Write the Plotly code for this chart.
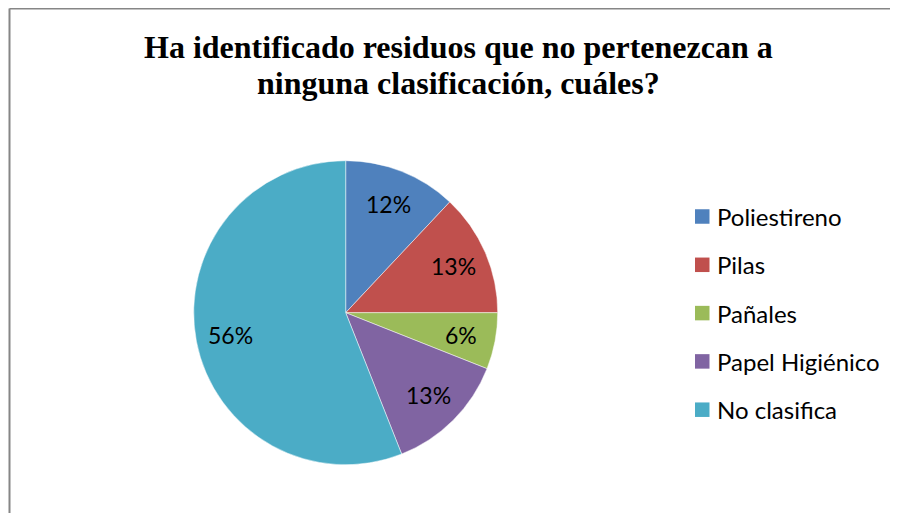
import math
import plotly.graph_objects as go

VW, VH = 898, 513          # browser window
OFF = 8                    # page body margin the browser adds around the figure
W, H = VW, VH

title_lines = ["Ha identificado residuos que no pertenezcan a", "ninguna clasificación, cuáles?"]
labels = ["Poliestireno", "Pilas", "Pañales", "Papel Higiénico", "No clasifica"]
values = [12, 13, 6, 13, 56]
colors = ["#4F81BD", "#C0504D", "#9BBB59", "#8064A2", "#4BACC6"]


def X(px):
    return (px - OFF) / W


def Y(py):
    return (H - (py - OFF)) / H


# pie geometry in screen pixels
cx, cy, R = 345.7, 312.7, 152.0

fig = go.Figure()
fig.add_trace(go.Pie(
    labels=labels,
    values=values,
    sort=False,
    direction="clockwise",
    rotation=0,
    marker=dict(colors=colors, line=dict(color="rgba(255,255,255,0.6)", width=0.8)),
    textinfo="none",
    showlegend=False,
    domain=dict(x=[X(cx - R), X(cx + R)], y=[Y(cy + R), Y(cy - R)]),
    hoverinfo="label+percent",
))

# percentage labels placed along each slice's bisector
total = sum(values)
cum = 0
for v in values:
    mid = (cum + v / 2) / total * 2 * math.pi
    cum += v
    r = 0.77 * R
    lx = cx + r * math.sin(mid)
    ly = cy - r * math.cos(mid)
    fig.add_annotation(text=f"{round(100 * v / total)}%", xref="paper", yref="paper",
                       x=X(lx), y=Y(ly), xanchor="center", yanchor="middle",
                       showarrow=False,
                       font=dict(family="Lato", size=23, color="#000000"))

# custom legend (rows spaced like the reference)
leg_x, leg_y0, leg_dy, sq = 695, 216.5, 48.3, 14.5
for i, (lab, col) in enumerate(zip(labels, colors)):
    yc = leg_y0 + i * leg_dy
    fig.add_shape(type="rect", xref="paper", yref="paper",
                  x0=X(leg_x), x1=X(leg_x + sq),
                  y0=Y(yc + sq / 2), y1=Y(yc - sq / 2),
                  fillcolor=col, line=dict(width=0))
    fig.add_annotation(text=lab, xref="paper", yref="paper",
                       x=X(leg_x + sq + 5), y=Y(yc), xanchor="left", yanchor="middle",
                       showarrow=False,
                       font=dict(family="Lato", size=24, color="#000000"))

# title, two lines with tight spacing
for i, line in enumerate(title_lines):
    fig.add_annotation(text=f"<b>{line}</b>", xref="paper", yref="paper",
                       x=X(458), y=Y(47 + i * 36), xanchor="center", yanchor="middle",
                       showarrow=False,
                       font=dict(family="Liberation Serif", size=32, color="#000000"))

# chart frame (only top and left edges are inside the window)
fig.add_shape(type="line", xref="paper", yref="paper",
              x0=X(9.5), x1=X(VW + 10), y0=Y(8.5), y1=Y(8.5),
              line=dict(color="#868686", width=2))
fig.add_shape(type="line", xref="paper", yref="paper",
              x0=X(9.5), x1=X(9.5), y0=Y(8.5), y1=Y(VH + 10),
              line=dict(color="#868686", width=2))

fig.update_layout(
    width=W, height=H,
    margin=dict(l=0, r=0, t=0, b=0),
    paper_bgcolor="white", plot_bgcolor="white",
)

fig.write_html("out.html")
